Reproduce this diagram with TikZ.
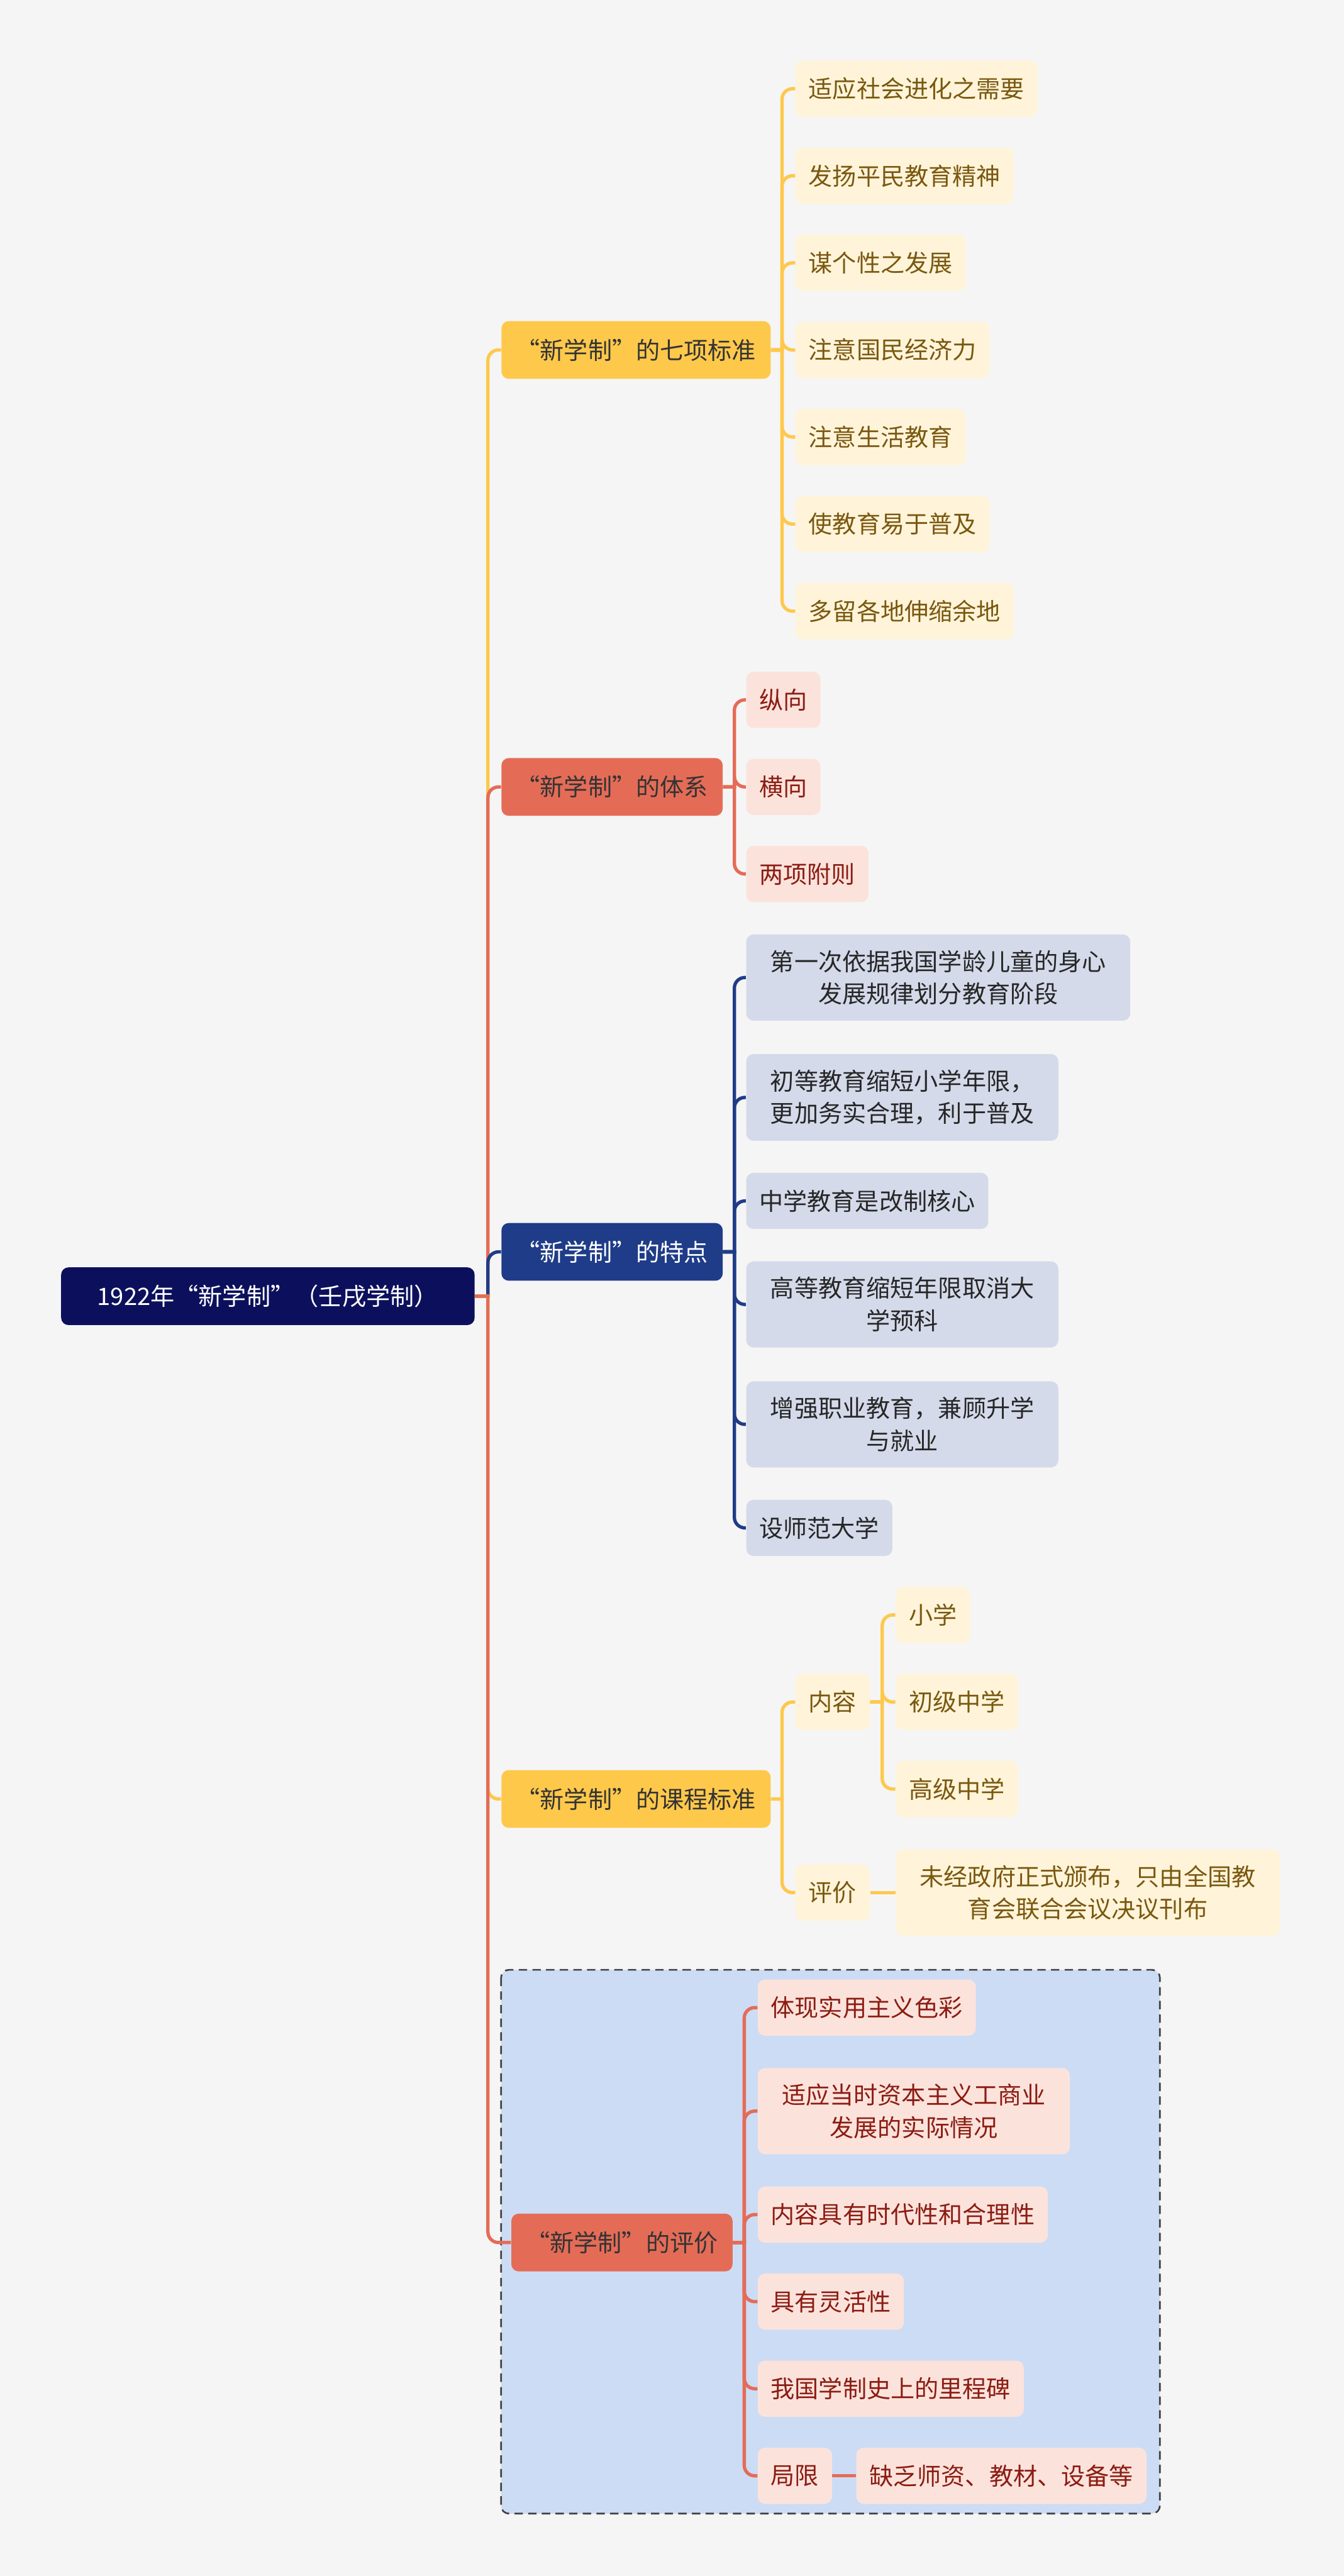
\documentclass[tikz,border=0pt]{standalone}
\usepackage{fontspec}
\usepackage{tikz}
\usetikzlibrary{positioning}
\newfontfamily\cjk{Noto Sans CJK SC}
\definecolor{bgGray}{RGB}{245,245,245}
\definecolor{rootNavy}{RGB}{12,16,92}
\definecolor{stdYellow}{RGB}{254,200,75}
\definecolor{sysRed}{RGB}{228,108,87}
\definecolor{featBlue}{RGB}{31,60,136}
\definecolor{leafYellow}{RGB}{255,244,217}
\definecolor{textYellow}{RGB}{122,88,16}
\definecolor{leafRed}{RGB}{251,227,220}
\definecolor{textRed}{RGB}{140,28,18}
\definecolor{leafBlue}{RGB}{212,218,234}
\definecolor{evalBlue}{RGB}{205,220,245}

\tikzset{
  box/.style={rounded corners=1.4mm, align=center, anchor=west,
    inner xsep=2.5mm, inner ysep=8.5pt, minimum height=10.7mm},
  wide/.style={inner xsep=4.6mm},
  rootbox/.style={box, fill=rootNavy, text=white, inner xsep=6.9mm, minimum height=11mm},
  topic/.style={box, inner xsep=2.8mm, minimum height=11mm},
  yleaf/.style={box, fill=leafYellow, text=textYellow},
  rleaf/.style={box, fill=leafRed, text=textRed},
  bleaf/.style={box, fill=leafBlue, text=black!85},
  link/.style={line width=1.8pt},
  evalbox/.style={draw=black!75, fill=evalBlue, line width=0.9pt, rounded corners=1.5mm,
    dash pattern=on 1.6mm off 1mm},
}

\begin{document}
\begin{tikzpicture}[x=0.313mm, y=-0.313mm, font=\cjk\fontsize{13pt}{17.6pt}\selectfont]
  \useasboundingbox (0,0) rectangle (818,1568);
  \fill[bgGray] (0,0) rectangle (818,1568);

  % evaluation group
  \draw[evalbox] (305,1199) rectangle (706,1530);

  \node[rootbox] (root) at (37,789) {1922年“新学制”（壬戌学制）};

  % first level
  \node[topic, fill=stdYellow, text=black!80] (std) at (305,213) {“新学制”的七项标准};
  \node[topic, fill=sysRed, text=black!80] (sys) at (305,479) {“新学制”的体系};
  \node[topic, fill=featBlue, text=white] (feat) at (305,762) {“新学制”的特点};
  \node[topic, fill=stdYellow, text=black!80] (cur) at (305,1095) {“新学制”的课程标准};
  \node[topic, fill=sysRed, text=black!80] (eva) at (311,1365) {“新学制”的评价};

  \coordinate (trunk) at (297,789);
  \foreach \n/\c in {std/stdYellow, sys/sysRed, feat/featBlue, cur/stdYellow, eva/sysRed}
    \draw[link, draw=\c] (root.east) -- (trunk) [rounded corners=2mm] |- (\n.west);

  % seven standards
  \coordinate (stdbus) at (476,213);
  \foreach \t/\y [count=\i] in {适应社会进化之需要/54, 发扬平民教育精神/107, 谋个性之发展/160,
      注意国民经济力/213, 注意生活教育/266, 使教育易于普及/319, 多留各地伸缩余地/372} {
    \node[yleaf] (s\i) at (484,\y) {\t};
    \draw[link, stdYellow] (std.east) -- (stdbus) [rounded corners=2mm] |- (s\i.west);
  }

  % system
  \coordinate (sysbus) at (447,479);
  \foreach \t/\y [count=\i] in {纵向/426, 横向/479, 两项附则/532} {
    \node[rleaf] (y\i) at (454,\y) {\t};
    \draw[link, sysRed] (sys.east) -- (sysbus) [rounded corners=2mm] |- (y\i.west);
  }

  % features
  \coordinate (featbus) at (447,762);
  \foreach \t/\y/\w [count=\i] in {第一次依据我国学龄儿童的身心\\发展规律划分教育阶段/595/wide,
      初等教育缩短小学年限，\\更加务实合理，利于普及/668/wide, 中学教育是改制核心/731/box,
      高等教育缩短年限取消大\\学预科/794/wide, 增强职业教育，兼顾升学\\与就业/867/wide,
      设师范大学/930/box} {
    \node[bleaf, \w] (f\i) at (454,\y) {\t};
    \draw[link, featBlue] (feat.east) -- (featbus) [rounded corners=2mm] |- (f\i.west);
  }

  % curriculum
  \coordinate (curbus) at (476,1095);
  \node[yleaf] (content) at (484,1036) {内容};
  \node[yleaf] (judge) at (484,1152) {评价};
  \foreach \n in {content, judge}
    \draw[link, stdYellow] (cur.east) -- (curbus) [rounded corners=2mm] |- (\n.west);

  \coordinate (contbus) at (537,1036);
  \foreach \t/\y [count=\i] in {小学/983, 初级中学/1036, 高级中学/1089} {
    \node[yleaf] (c\i) at (545,\y) {\t};
    \draw[link, stdYellow] (content.east) -- (contbus) [rounded corners=2mm] |- (c\i.west);
  }
  \node[yleaf, wide] (issued) at (545,1152) {未经政府正式颁布，只由全国教\\育会联合会议决议刊布};
  \draw[link, stdYellow] (judge.east) -- (issued.west);

  % evaluation
  \coordinate (evabus) at (453,1365);
  \foreach \t/\y/\w [count=\i] in {体现实用主义色彩/1222/box, 适应当时资本主义工商业\\发展的实际情况/1285/wide,
      内容具有时代性和合理性/1348/box, 具有灵活性/1401/box, 我国学制史上的里程碑/1454/box, 局限/1507/box} {
    \node[rleaf, \w] (e\i) at (461,\y) {\t};
    \draw[link, sysRed] (eva.east) -- (evabus) [rounded corners=2mm] |- (e\i.west);
  }
  \node[rleaf] (lack) at (521,1507) {缺乏师资、教材、设备等};
  \draw[link, sysRed] (e6.east) -- (lack.west);
\end{tikzpicture}
\end{document}
